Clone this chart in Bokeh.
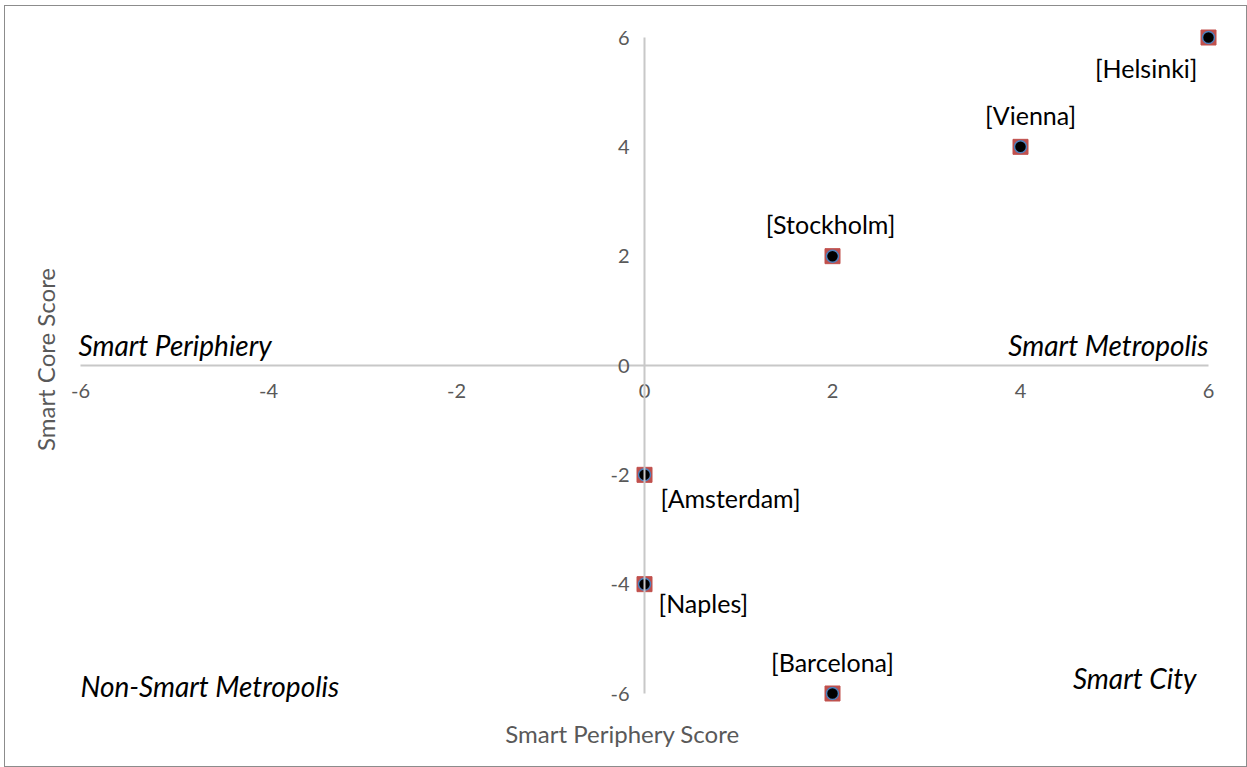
from math import pi
from bokeh.plotting import figure
from bokeh.models import LinearAxis, FixedTicker, Label, ColumnDataSource, Range1d
from bokeh.core.properties import value
from bokeh.embed import file_html
from bokeh.resources import INLINE

# ---- data ----
cities = ["Helsinki", "Vienna", "Stockholm", "Amsterdam", "Naples", "Barcelona"]
periphery_score = [6, 4, 2, 0, 0, 2]
core_score = [6, 4, 2, -2, -4, -6]
tick_values = [-6, -4, -2, 0, 2, 4, 6]
quadrant_names = ["Smart Periphiery", "Smart Metropolis", "Non-Smart Metropolis", "Smart City"]
x_title = "Smart Periphery Score"
y_title = "Smart Core Score"

FONT = "Lato"
GREY = "#595959"

# label placement (style only): align, x offset px, y offset px (down positive)
label_place = {
    "Helsinki": ("right", -11, 30),
    "Vienna": ("center", 10, -32),
    "Stockholm": ("center", -2, -32),
    "Amsterdam": ("left", 16, 23),
    "Naples": ("left", 14, 19),
    "Barcelona": ("center", 0, -32),
}

src = ColumnDataSource(dict(
    x=periphery_score,
    y=core_score,
    name=[f"[{c}]" for c in cities],
    align=[label_place[c][0] for c in cities],
    xo=[label_place[c][1] for c in cities],
    yo=[label_place[c][2] for c in cities],
))

lo, hi = tick_values[0], tick_values[-1]

# canvas geometry: the whole canvas is the frame; the plotted square
# [-6, 6] x [-6, 6] sits inside it with these pixel margins
W, H = 1241, 760
m_left, m_right, m_top, m_bottom = 75, 38, 31, 73
sx = (W - m_left - m_right) / (hi - lo)
sy = (H - m_top - m_bottom) / (hi - lo)
x_range = Range1d(lo - m_left / sx, hi + m_right / sx)
y_range = Range1d(lo - m_bottom / sy, hi + m_top / sy)

p = figure(frame_width=W, frame_height=H,
           x_range=x_range, y_range=y_range,
           x_axis_location=None, y_axis_location=None,
           toolbar_location=None, output_backend="svg",
           min_border=0)
p.grid.visible = False
p.outline_line_color = None
p.background_fill_color = "white"
p.border_fill_color = "white"
p.styles = {"border": "1px solid #8c8c8c", "margin-left": "4px", "margin-top": "5px"}

axis_kw = dict(
    fixed_location=0,
    bounds=(lo, hi),
    ticker=FixedTicker(ticks=tick_values),
    major_label_overrides={v: str(v) for v in tick_values},
    axis_line_color="#c8c8c8", axis_line_width=2,
    major_tick_line_color=None, minor_tick_line_color=None,
    major_label_text_font=FONT, major_label_text_font_size="20px",
    major_label_text_color=GREY,
)
xa = LinearAxis(major_label_standoff=12, **axis_kw)
ya = LinearAxis(major_label_standoff=9, **axis_kw)
p.add_layout(xa, "below")
p.add_layout(ya, "left")

# markers
p.scatter(x="x", y="y", source=src, marker="square", size=15,
          fill_color="#c0504d", line_color="#c0504d")
p.scatter(x="x", y="y", source=src, marker="circle", size=12,
          fill_color="black", line_color="#4f81bd", line_width=1.5)

# point labels
p.text(x="x", y="y", text="name", source=src, x_offset="xo", y_offset="yo",
       text_align="align", text_baseline="middle",
       text_font=value(FONT), text_font_size="25px", text_color="black")

# quadrant labels
qstyle = dict(text_font=FONT, text_font_size="28px", text_font_style="italic",
              text_color="black", text_baseline="middle")
p.add_layout(Label(x=lo, y=0, text=quadrant_names[0], text_align="left",
                   x_offset=-2, y_offset=21, **qstyle))
p.add_layout(Label(x=hi, y=0, text=quadrant_names[1], text_align="right",
                   x_offset=0, y_offset=21, **qstyle))
p.add_layout(Label(x=lo, y=lo, text=quadrant_names[2], text_align="left",
                   x_offset=0, y_offset=8, **qstyle))
p.add_layout(Label(x=hi, y=lo, text=quadrant_names[3], text_align="right",
                   x_offset=-12, y_offset=16, **qstyle))

# axis titles
tstyle = dict(text_font=FONT, text_font_size="24px", text_color=GREY,
              text_align="center", text_baseline="middle")
p.add_layout(Label(x=0, y=lo, text=x_title, x_offset=-22, y_offset=-40, **tstyle))
p.add_layout(Label(x=lo, y=0, text=y_title, angle=pi / 2, x_offset=-35, y_offset=6, **tstyle))

open("out.html", "w").write(file_html(p, INLINE))
